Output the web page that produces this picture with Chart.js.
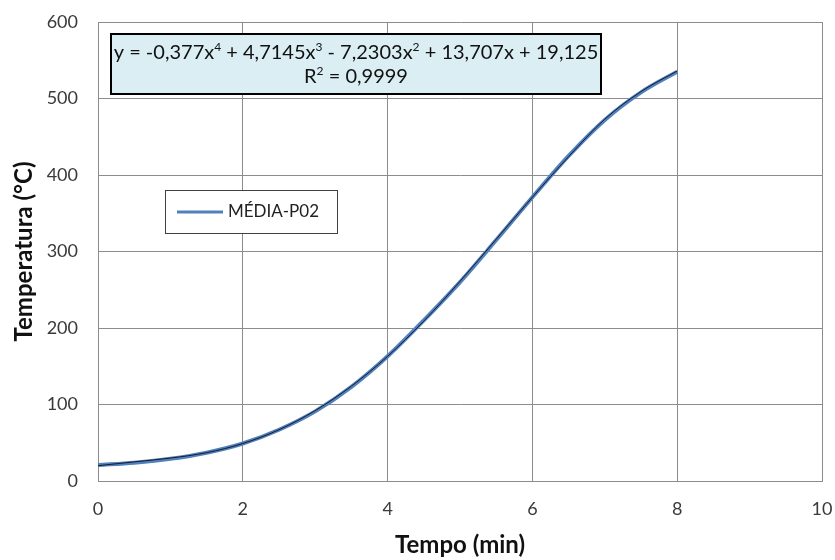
<!DOCTYPE html>
<html>
<head>
<meta charset="utf-8">
<script src="https://cdn.jsdelivr.net/npm/chart.js@4"></script>
<style>
  html, body { margin: 0; padding: 0; background: #fff; }
  #wrap { width: 835px; height: 560px; }
</style>
</head>
<body>
<div id="wrap"><canvas id="chart" width="835" height="560"></canvas></div>
<script>
// values
const tempo = [0, 0.5, 1, 1.5, 2, 2.5, 3, 3.5, 4, 4.5, 5, 5.5, 6, 6.5, 7, 7.5, 8];
const mediaP02 = [21, 24, 29, 37, 49, 67, 91, 123, 163, 210, 260, 315, 371, 425, 472, 508, 535];
const trendValues = [20, 25, 30, 37, 49, 67, 92, 124, 163, 209, 261, 316, 371, 424, 473, 509, 536];
const xTicks = [0, 2, 4, 6, 8, 10];
const yTicks = [0, 100, 200, 300, 400, 500, 600];
// equation pieces: [text, superscript?]
const equationParts = [
  ['y = -0,377x', false], ['4', true], [' + 4,7145x', false], ['3', true],
  [' - 7,2303x', false], ['2', true], [' + 13,707x + 19,125', false]
];
const r2Parts = [['R', false], ['2', true], [' = 0,9999', false]];

const FONT = 'Lato, "Open Sans", sans-serif';
const GRID = '#8c8c8c';

function drawRich(ctx, parts, cx, y, size) {
  const big = size + 'px ' + FONT;
  const small = Math.round(size * 0.62) + 'px ' + FONT;
  let w = 0;
  parts.forEach(([t, sup]) => { ctx.font = sup ? small : big; w += ctx.measureText(t).width; });
  let x = cx - w / 2;
  parts.forEach(([t, sup]) => {
    ctx.font = sup ? small : big;
    ctx.fillText(t, x, sup ? y - size * 0.38 : y);
    x += ctx.measureText(t).width;
  });
}

// equation box + legend box drawn inside the plot
const boxesPlugin = {
  id: 'boxes',
  afterDraw(chart) {
    const ctx = chart.ctx;
    ctx.save();
    // equation box
    ctx.fillStyle = '#dbeef4';
    ctx.fillRect(111, 34, 490, 60);
    ctx.strokeStyle = '#000';
    ctx.lineWidth = 2;
    ctx.strokeRect(111, 34, 490, 60);
    ctx.fillStyle = '#111';
    ctx.textAlign = 'left';
    ctx.textBaseline = 'alphabetic';
    drawRich(ctx, equationParts, 356, 59, 20);
    drawRich(ctx, r2Parts, 356, 83, 20);

    // legend
    ctx.fillStyle = '#fff';
    ctx.fillRect(165, 190, 172, 43);
    ctx.strokeStyle = '#404040';
    ctx.lineWidth = 1;
    ctx.strokeRect(165.5, 190.5, 172, 43);
    ctx.strokeStyle = '#4f81bd';
    ctx.lineWidth = 3;
    ctx.beginPath();
    ctx.moveTo(177, 212);
    ctx.lineTo(223, 212);
    ctx.stroke();
    ctx.fillStyle = '#222';
    ctx.font = '17px ' + FONT;
    ctx.textBaseline = 'middle';
    ctx.fillText(chart.data.datasets[0].label, 228, 212);
    ctx.restore();
  }
};

new Chart(document.getElementById('chart'), {
  type: 'line',
  data: {
    datasets: [
      {
        label: 'MÉDIA-P02',
        data: tempo.map((t, i) => ({ x: t, y: mediaP02[i] })),
        borderColor: '#4f81bd',
        borderWidth: 4,
        pointRadius: 0,
        cubicInterpolationMode: 'monotone',
        order: 2
      },
      {
        label: 'Polinomial',
        data: tempo.map((t, i) => ({ x: t, y: trendValues[i] })),
        borderColor: '#1a1a2a',
        borderWidth: 1,
        pointRadius: 0,
        cubicInterpolationMode: 'monotone',
        order: 1
      }
    ]
  },
  plugins: [boxesPlugin],
  options: {
    responsive: false,
    animation: false,
    layout: { padding: { top: 22, right: 13, left: 0, bottom: 0 } },
    plugins: {
      legend: { display: false },
      tooltip: { enabled: false }
    },
    scales: {
      x: {
        type: 'linear',
        min: 0,
        max: 10,
        afterBuildTicks: (s) => { s.ticks = xTicks.map(v => ({ value: v })); },
        afterFit: (s) => { s.height = 79; s.paddingLeft = 0; s.paddingRight = 0; },
        grid: { color: GRID, drawTicks: false },
        border: { color: GRID },
        ticks: { padding: 17, color: '#3a3a3a', font: { family: FONT, size: 18 } },
        title: {
          display: true,
          text: 'Tempo (min)',
          color: '#111',
          font: { family: FONT, size: 24, weight: 'bold' },
          padding: { top: 6, bottom: 0 }
        }
      },
      y: {
        min: 0,
        max: 600,
        afterBuildTicks: (s) => { s.ticks = yTicks.map(v => ({ value: v })); },
        afterFit: (s) => { s.width = 98; s.paddingTop = 0; s.paddingBottom = 0; },
        grid: { color: GRID, drawTicks: false },
        border: { color: GRID },
        ticks: { padding: 20, color: '#3a3a3a', font: { family: FONT, size: 18 } },
        title: {
          display: true,
          text: 'Temperatura (°C)',
          color: '#111',
          font: { family: FONT, size: 24, weight: 'bold' },
          padding: { top: 10, bottom: 0 }
        }
      }
    }
  }
});
</script>
</body>
</html>
